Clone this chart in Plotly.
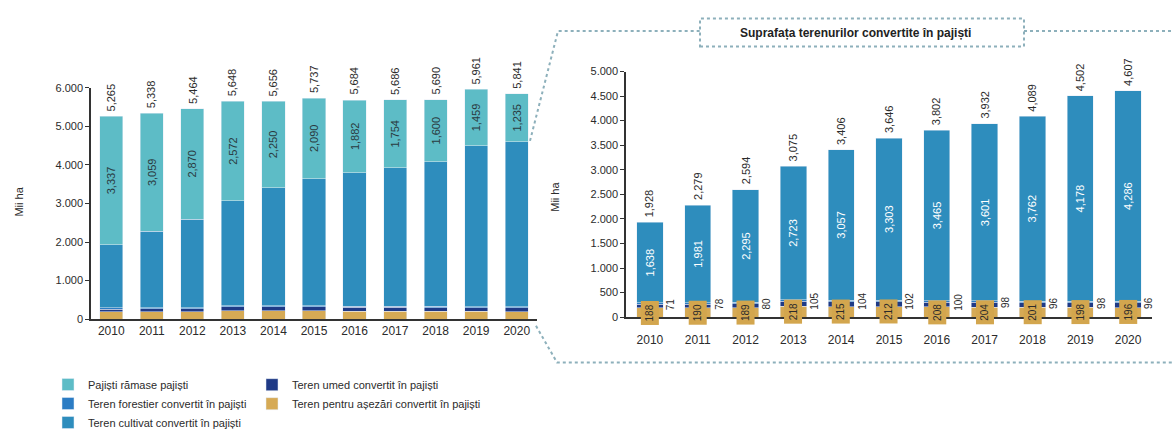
import plotly.graph_objects as go

# ---------------- data ----------------
years = ["2010", "2011", "2012", "2013", "2014", "2015", "2016", "2017", "2018", "2019", "2020"]
totals_all = [5265, 5338, 5464, 5648, 5656, 5737, 5684, 5686, 5690, 5961, 5841]
pajisti_ramase = [3337, 3059, 2870, 2572, 2250, 2090, 1882, 1754, 1600, 1459, 1235]
total_convertit = [1928, 2279, 2594, 3075, 3406, 3646, 3802, 3932, 4089, 4502, 4607]
cultivat = [1638, 1981, 2295, 2723, 3057, 3303, 3465, 3601, 3762, 4178, 4286]
asezari = [188, 190, 189, 218, 215, 212, 208, 204, 201, 198, 196]
umed = [71, 78, 80, 105, 104, 102, 100, 98, 96, 98, 96]
forestier = [31, 30, 30, 29, 30, 29, 29, 29, 30, 28, 29]

names = {
    "paj": "Pajiști rămase pajiști",
    "for": "Teren forestier convertit în pajiști",
    "cul": "Teren cultivat convertit în pajiști",
    "ume": "Teren umed convertit în pajiști",
    "ase": "Teren pentru așezări convertit în pajiști",
}
colors = {
    "paj": "#5dbcc6",
    "for": "#2b7cc4",
    "cul": "#2e8dbd",
    "ume": "#1f3a86",
    "ase": "#d6aa55",
}

W, H = 1172, 437
FONT = "Liberation Sans, Arial, sans-serif"
TXT = "#2b2b2b"


def fmt(v):
    return f"{v:,}"


def px(x):
    return x / W


def py(y):
    return 1 - y / H


fig = go.Figure()

# ---------- left chart ----------
LW = 0.57
fig.add_bar(x=years, y=asezari, name=names["ase"], marker_color=colors["ase"], width=LW,
            xaxis="x", yaxis="y", legend="legend2", legendrank=2)
fig.add_bar(x=years, y=umed, name=names["ume"], marker_color=colors["ume"], width=LW,
            xaxis="x", yaxis="y", legend="legend2", legendrank=1)
fig.add_bar(x=years, y=forestier, name=names["for"], marker_color=colors["for"], width=LW,
            xaxis="x", yaxis="y", legend="legend", legendrank=2)
fig.add_bar(x=years, y=cultivat, name=names["cul"], marker_color=colors["cul"], width=LW,
            xaxis="x", yaxis="y", legend="legend", legendrank=3)
fig.add_bar(x=years, y=pajisti_ramase, name=names["paj"], marker_color=colors["paj"], width=LW,
            xaxis="x", yaxis="y", legend="legend", legendrank=1,
            text=[fmt(v) for v in pajisti_ramase], textposition="inside", textangle=-90,
            insidetextanchor="middle", insidetextfont=dict(size=11, color="#2a3a40", family=FONT))

# ---------- right chart ----------
RW = 0.55
fig.add_bar(x=years, y=asezari, marker_color=colors["ase"], width=RW, showlegend=False,
            xaxis="x2", yaxis="y2")
fig.add_bar(x=years, y=umed, marker_color=colors["ume"], width=RW, showlegend=False,
            xaxis="x2", yaxis="y2")
fig.add_bar(x=years, y=forestier, marker_color=colors["for"], width=RW, showlegend=False,
            xaxis="x2", yaxis="y2")
fig.add_bar(x=years, y=cultivat, marker_color=colors["cul"], width=RW, showlegend=False,
            xaxis="x2", yaxis="y2",
            text=[fmt(v) for v in cultivat], textposition="inside", textangle=-90,
            insidetextanchor="middle", insidetextfont=dict(size=11, color="white", family=FONT))

annotations = []
for i, yr in enumerate(years):
    # category index i on the category axes
    annotations.append(dict(x=i, y=totals_all[i], xref="x", yref="y", text=fmt(totals_all[i]),
                            textangle=-90, showarrow=False, xanchor="center", yanchor="bottom", yshift=3,
                            font=dict(size=11, color=TXT, family=FONT)))
    annotations.append(dict(x=i, y=total_convertit[i], xref="x2", yref="y2", text=fmt(total_convertit[i]),
                            textangle=-90, showarrow=False, xanchor="center", yanchor="bottom", yshift=3,
                            font=dict(size=11, color=TXT, family=FONT)))
    annotations.append(dict(x=i, y=asezari[i] / 2, xref="x2", yref="y2", text=str(asezari[i]),
                            textangle=-90, showarrow=False, xanchor="center", yanchor="middle",
                            bgcolor="#d3a64e", borderpad=3,
                            font=dict(size=10, color=TXT, family=FONT)))
    annotations.append(dict(x=i, y=asezari[i] + umed[i], xref="x2", yref="y2", text=str(umed[i]),
                            textangle=-90, showarrow=False, xanchor="center", yanchor="middle", xshift=21,
                            font=dict(size=10, color=TXT, family=FONT)))

annotations += [
    dict(x=px(19), y=py(203), xref="paper", yref="paper", text="Mii ha", textangle=-90,
         xanchor="center", yanchor="middle",
         showarrow=False, font=dict(size=11, color=TXT, family=FONT)),
    dict(x=px(555), y=py(198), xref="paper", yref="paper", text="Mii ha", textangle=-90,
         xanchor="center", yanchor="middle",
         showarrow=False, font=dict(size=11, color=TXT, family=FONT)),
    dict(x=px(855), y=py(28), xref="paper", yref="paper",
         text="<b>Suprafața terenurilor convertite în pajiști</b>",
         xanchor="center", yanchor="middle",
         showarrow=False, font=dict(size=12, color="#222", family=FONT)),
]

dot = dict(color="#8db0bb", width=2, dash="dot")
shapes = [
    dict(type="path", xref="paper", yref="paper", line=dot,
         path=f"M{px(530)},{py(140)} L{px(558)},{py(26)} L{px(700)},{py(26)}"),
    dict(type="rect", xref="paper", yref="paper", line=dot,
         x0=px(700), x1=px(1024), y0=py(42), y1=py(13)),
    dict(type="line", xref="paper", yref="paper", line=dot,
         x0=px(1024), x1=px(1172), y0=py(26), y1=py(26)),
    dict(type="path", xref="paper", yref="paper", line=dot,
         path=f"M{px(536)},{py(332)} L{px(557)},{py(370)} L{px(1172)},{py(370)}"),
]

axis_common = dict(showgrid=False, zeroline=False, showline=True, linecolor="#333", linewidth=1.5,
                   tickfont=dict(size=11, color=TXT, family=FONT))
xfont = dict(size=12, color=TXT, family=FONT)

fig.update_layout(
    width=W, height=H,
    margin=dict(l=0, r=0, t=0, b=0),
    paper_bgcolor="white", plot_bgcolor="white",
    barmode="stack",
    separators=",.",
    font=dict(family=FONT, color=TXT),
    xaxis=dict(domain=[px(91), px(537)], anchor="y", type="category", ticks="", range=[-0.5, 10.5],
               **{**axis_common, "tickfont": xfont}),
    yaxis=dict(domain=[py(325), py(85)], anchor="x", range=[0, 6000],
               tickvals=[0, 1000, 2000, 3000, 4000, 5000, 6000],
               tickformat=",d", ticks="outside", ticklen=4, tickcolor="#333", **axis_common),
    xaxis2=dict(domain=[px(626), px(1152)], anchor="y2", type="category", ticks="", range=[-0.5, 10.5],
                ticklabelstandoff=11, **{**axis_common, "tickfont": xfont}),
    yaxis2=dict(domain=[py(323), py(68)], anchor="x2", range=[0, 5000], dtick=500,
                tickformat=",d", ticks="outside", ticklen=4, tickcolor="#333", **axis_common),
    legend=dict(x=px(48), y=py(378), xanchor="left", yanchor="top", orientation="v",
                bgcolor="rgba(0,0,0,0)", font=dict(size=11, color=TXT, family=FONT),
                traceorder="normal", tracegroupgap=0, itemwidth=30),
    legend2=dict(x=px(252), y=py(378), xanchor="left", yanchor="top", orientation="v",
                 bgcolor="rgba(0,0,0,0)", font=dict(size=11, color=TXT, family=FONT),
                 traceorder="normal", tracegroupgap=0, itemwidth=30),
    annotations=annotations,
    shapes=shapes,
)

fig.write_html("out.html", config={"displayModeBar": False},
               post_script="document.body.style.margin='0';")
